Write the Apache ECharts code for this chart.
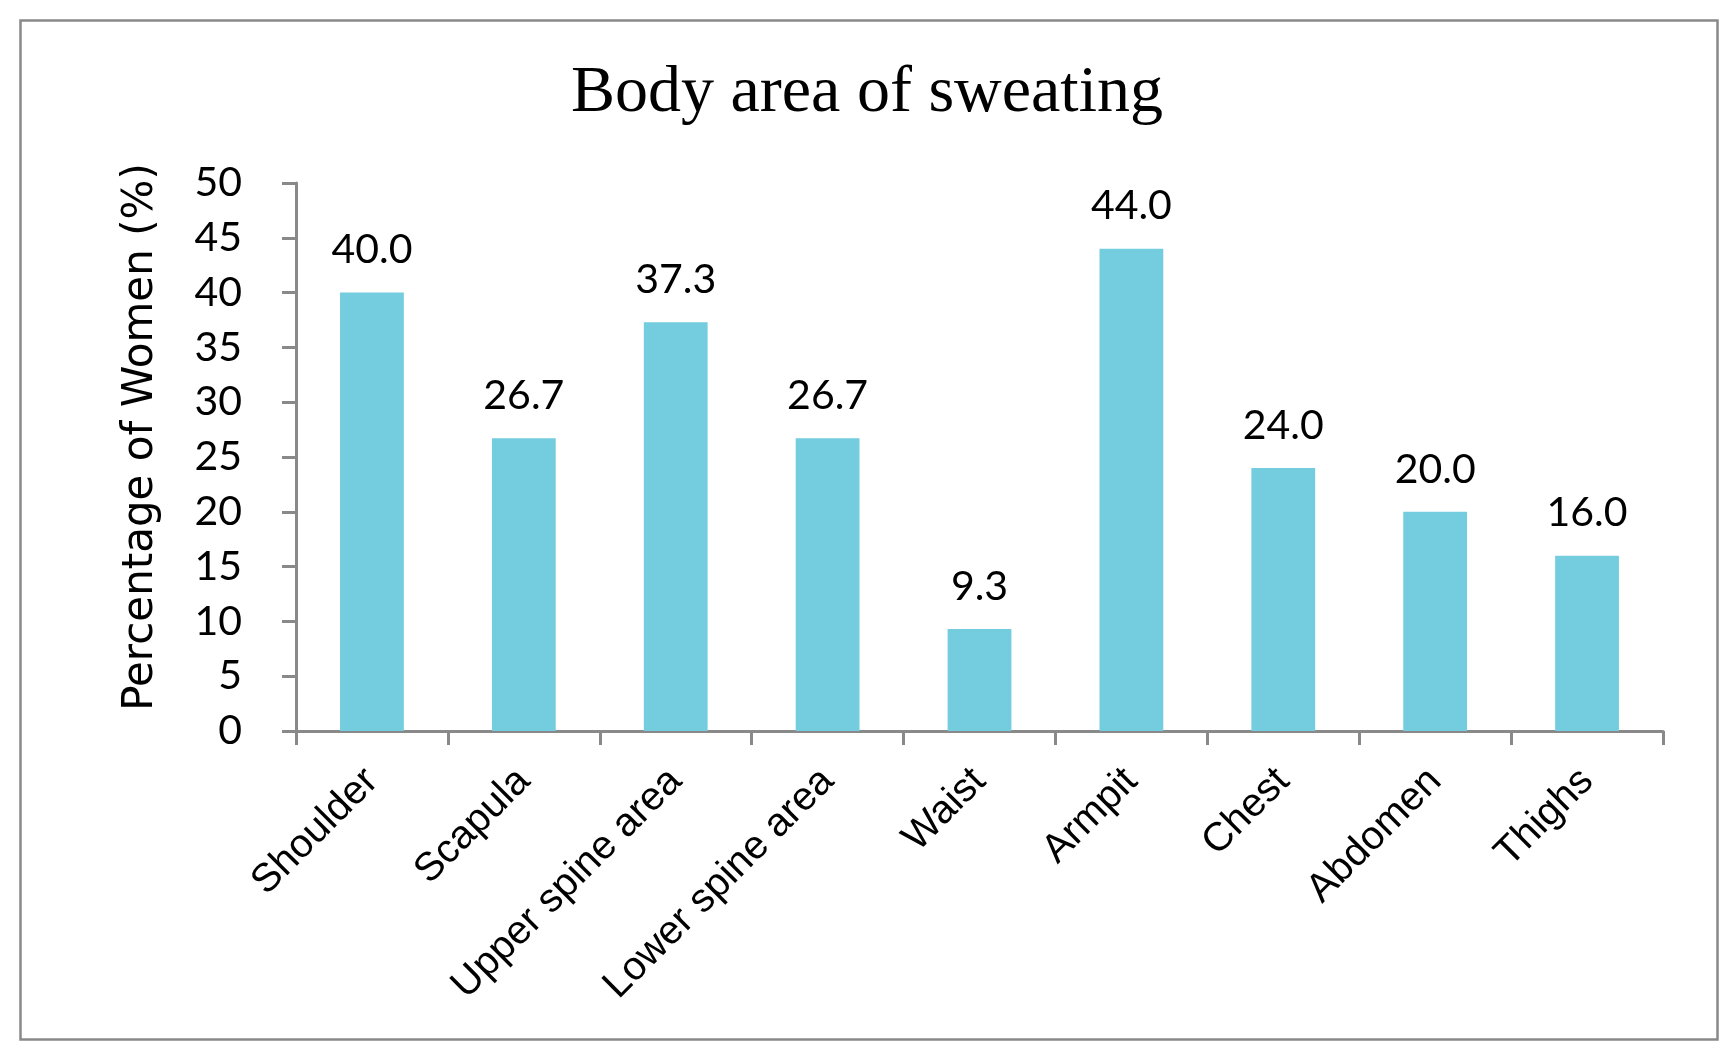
<!DOCTYPE html>
<html>
<head>
<meta charset="utf-8">
<script src="https://cdn.jsdelivr.net/npm/echarts@6/dist/echarts.min.js"></script>
<style>
  html, body { margin: 0; padding: 0; background: #fff; }
  #chart { width: 1734px; height: 1057px; }
</style>
</head>
<body>
<div id="chart"></div>
<script>
const chartTitle = 'Body area of sweating';
const yAxisTitle = 'Percentage of Women (%)';
const categories = ['Shoulder', 'Scapula', 'Upper spine area', 'Lower spine area', 'Waist', 'Armpit', 'Chest', 'Abdomen', 'Thighs'];
const percentages = [40.0, 26.7, 37.3, 26.7, 9.3, 44.0, 24.0, 20.0, 16.0];
const yTicks = [0, 5, 10, 15, 20, 25, 30, 35, 40, 45, 50];

const axisGray = '#898989';
const chart = echarts.init(document.getElementById('chart'), null, { renderer: 'canvas' });

chart.setOption({
  backgroundColor: '#ffffff',
  animation: false,
  title: {
    text: chartTitle,
    left: 'center',
    top: 56,
    textStyle: { fontFamily: 'Liberation Serif', fontSize: 66, fontWeight: 'normal', color: '#000' }
  },
  graphic: [{
    type: 'rect',
    left: 18, top: 18,
    shape: { width: 1697, height: 1019 },
    style: { fill: 'none', stroke: axisGray, lineWidth: 2.5 },
    silent: true
  }],
  grid: { left: 296, right: 71, top: 183, bottom: 326, containLabel: false },
  xAxis: {
    type: 'category',
    data: categories,
    boundaryGap: true,
    axisLine: { show: true, lineStyle: { color: axisGray, width: 3 } },
    axisTick: { show: true, alignWithLabel: false, inside: false, length: 14, lineStyle: { color: axisGray, width: 3 } },
    axisLabel: {
      rotate: 45, margin: 44, interval: 0,
      fontFamily: 'Liberation Sans', fontSize: 40, color: '#000'
    },
    splitLine: { show: false }
  },
  yAxis: {
    type: 'value',
    min: yTicks[0], max: yTicks[yTicks.length - 1], interval: yTicks[1] - yTicks[0],
    name: yAxisTitle,
    nameLocation: 'middle',
    nameGap: 134,
    nameTextStyle: { fontFamily: 'DejaVu Sans', fontSize: 42, color: '#000', padding: [0, 0, 0, 40] },
    axisLine: { show: true, lineStyle: { color: axisGray, width: 3 } },
    axisTick: { show: true, inside: false, length: 14, lineStyle: { color: axisGray, width: 3 } },
    axisLabel: { margin: 54, fontFamily: 'Lato', fontSize: 41, color: '#000' },
    splitLine: { show: false }
  },
  series: [{
    type: 'bar',
    data: percentages,
    barWidth: '42%',
    itemStyle: { color: '#73CDDE' },
    label: {
      show: true, position: 'top', distance: 22,
      fontFamily: 'Lato', fontSize: 41, color: '#000',
      formatter: p => p.value.toFixed(1)
    }
  }]
});
</script>
</body>
</html>
